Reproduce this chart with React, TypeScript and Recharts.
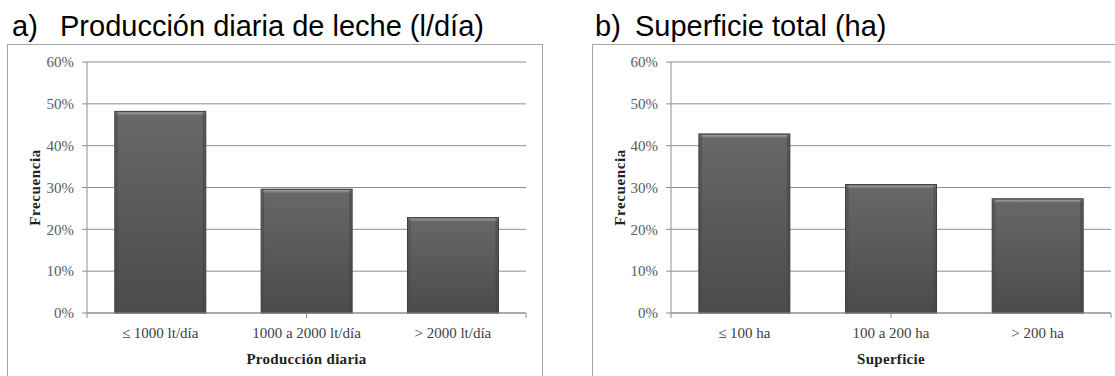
import React from 'react';
import { BarChart, Bar, XAxis, YAxis, CartesianGrid } from 'recharts';

// ---- data ----
const leftCategories = ['≤ 1000 lt/día', '1000 a 2000 lt/día', '> 2000 lt/día'];
const leftValues = [48.2, 29.6, 22.8];
const rightCategories = ['≤ 100 ha', '100 a 200 ha', '> 200 ha'];
const rightValues = [42.8, 30.7, 27.3];
const yTicks = [0, 10, 20, 30, 40, 50, 60];
const boundaryTicks = [0, 1, 2, 3];

const leftData = leftCategories.map((name, i) => ({ name, value: leftValues[i] }));
const rightData = rightCategories.map((name, i) => ({ name, value: rightValues[i] }));

const SERIF = '"Liberation Serif", "Times New Roman", serif';
const SANS = '"Liberation Sans", Arial, sans-serif';
const GRID = '#8e8e8e';

const BevelBar = (props: any) => {
  const { x, y, width, height } = props;
  if (!height || height <= 0) return null;
  return (
    <g>
      <rect x={x} y={y} width={width} height={height} fill="url(#barGrad)" stroke="#3c3c3c" strokeWidth={1} />
      <rect x={x + 1} y={y + 1} width={width - 2} height={3} fill="url(#bevelTop)" />
      <rect x={x + 1} y={y + 1} width={2} height={height - 2} fill="#4a4a4a" opacity={0.6} />
      <rect x={x + width - 3} y={y + 1} width={2} height={height - 2} fill="#454545" opacity={0.6} />
    </g>
  );
};

type PanelProps = {
  data: { name: string; value: number }[];
  xTitle: string;
  marginLeft: number;
  marginRight: number;
  yLabelOffset: number;
};

const Panel = ({ data, xTitle, marginLeft, marginRight, yLabelOffset }: PanelProps) => (
  <BarChart
    width={560}
    height={376}
    data={data}
    margin={{ top: 62, right: marginRight, bottom: 61, left: marginLeft }}
    barCategoryGap="19%"
  >
    <CartesianGrid horizontal vertical={false} stroke={GRID} />
    <XAxis
      xAxisId="bounds"
      type="number"
      domain={[0, 3]}
      ticks={boundaryTicks}
      interval={0}
      height={1}
      axisLine={{ stroke: GRID }}
      tickLine={{ stroke: GRID }}
      tickSize={5}
      tick={() => <g />}
    />
    <XAxis
      xAxisId="cat"
      dataKey="name"
      height={1}
      axisLine={false}
      tickLine={false}
      tickSize={5}
      tickMargin={8}
      interval={0}
      tick={{ fontFamily: SERIF, fontSize: 15, fill: '#404040' }}
      label={{
        value: xTitle,
        position: 'bottom',
        offset: 38,
        style: { fontFamily: SERIF, fontSize: 15, fontWeight: 'bold', fill: '#222', letterSpacing: 0.3 },
      }}
    />
    <YAxis
      width={70}
      domain={[0, 60]}
      ticks={yTicks}
      interval={0}
      tickFormatter={(v: number) => `${v}%`}
      axisLine={{ stroke: GRID }}
      tickLine={{ stroke: GRID }}
      tickSize={5}
      tickMargin={8}
      tick={{ fontFamily: SERIF, fontSize: 15, fill: '#5a5a5a' }}
      label={{
        value: 'Frecuencia',
        angle: -90,
        position: 'insideLeft',
        offset: yLabelOffset,
        style: { fontFamily: SERIF, fontSize: 15, fontWeight: 'bold', fill: '#222', textAnchor: 'middle', letterSpacing: 0.6 },
      }}
    />
    <Bar xAxisId="cat" dataKey="value" isAnimationActive={false} shape={BevelBar} />
  </BarChart>
);

export default function App() {
  return (
    <div
      style={{
        position: 'absolute',
        left: 0,
        top: 0,
        width: 1115,
        height: 376,
        overflow: 'hidden',
        background: '#fff',
      }}
    >
      <svg width={0} height={0} style={{ position: 'absolute' }}>
        <defs>
          <linearGradient id="barGrad" x1="0" y1="0" x2="0" y2="1">
            <stop offset="0%" stopColor="#686868" />
            <stop offset="100%" stopColor="#4b4b4b" />
          </linearGradient>
          <linearGradient id="bevelTop" x1="0" y1="0" x2="0" y2="1">
            <stop offset="0%" stopColor="#a0a0a0" />
            <stop offset="100%" stopColor="#6a6a6a" />
          </linearGradient>
        </defs>
      </svg>

      {/* panel boxes */}
      <div style={{ position: 'absolute', left: 7, top: 44, width: 534, height: 360, border: '1px solid #a6a6a6' }} />
      <div style={{ position: 'absolute', left: 592, top: 44, width: 560, height: 360, border: '1px solid #a6a6a6' }} />

      {/* titles */}
      <div style={{ position: 'absolute', left: 12, top: 12, fontFamily: SANS, fontSize: 29, lineHeight: 1, color: '#000', whiteSpace: 'nowrap' }}>a)</div>
      <div style={{ position: 'absolute', left: 60, top: 12, fontFamily: SANS, fontSize: 29, lineHeight: 1, color: '#000', whiteSpace: 'nowrap' }}>
        Producción diaria de leche (l/día)
      </div>
      <div style={{ position: 'absolute', left: 595, top: 12, fontFamily: SANS, fontSize: 29, lineHeight: 1, color: '#000', whiteSpace: 'nowrap' }}>b)</div>
      <div style={{ position: 'absolute', left: 635, top: 12, fontFamily: SANS, fontSize: 29, lineHeight: 1, color: '#000', whiteSpace: 'nowrap' }}>
        Superficie total (ha)
      </div>

      <div style={{ position: 'absolute', left: 0, top: 0 }}>
        <Panel data={leftData} xTitle="Producción diaria" marginLeft={17} marginRight={34} yLabelOffset={18} />
      </div>
      <div style={{ position: 'absolute', left: 555, top: 0 }}>
        <Panel data={rightData} xTitle="Superficie" marginLeft={46} marginRight={4} yLabelOffset={19} />
      </div>
    </div>
  );
}
